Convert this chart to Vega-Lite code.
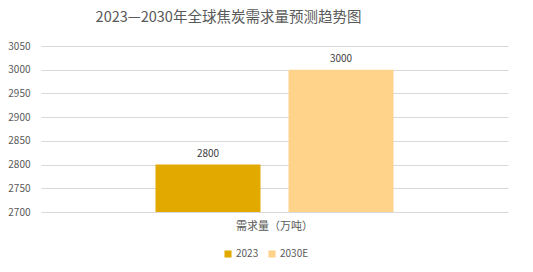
{
  "$schema": "https://vega.github.io/schema/vega-lite/v6.json",
  "autosize": "none",
  "width": 467,
  "height": 166,
  "padding": {"left": 41, "top": 46, "right": 25, "bottom": 60},
  "background": "white",
  "title": {
    "text": "2023—2030年全球焦炭需求量预测趋势图",
    "font": "Noto Sans CJK SC",
    "fontSize": 14.5,
    "fontWeight": "normal",
    "color": "#595959",
    "anchor": "middle",
    "dx": -46,
    "offset": 16
  },
  "config": {
    "view": {"stroke": null},
    "font": "Noto Sans CJK SC"
  },
  "data": {
    "values": [
      {"category": "需求量（万吨）", "series": "2023", "value": 2800},
      {"category": "需求量（万吨）", "series": "2030E", "value": 3000}
    ]
  },
  "encoding": {
    "x": {
      "field": "category",
      "type": "nominal",
      "scale": {"paddingInner": 0, "paddingOuter": 0.481},
      "axis": {
        "title": null,
        "labelAngle": 0,
        "labelFontSize": 11,
        "labelColor": "#595959",
        "labelPadding": 8,
        "ticks": false,
        "domain": false
      }
    },
    "xOffset": {
      "field": "series",
      "type": "nominal",
      "scale": {"paddingInner": 0.2105, "paddingOuter": 0}
    },
    "y": {
      "field": "value",
      "type": "quantitative",
      "scale": {"domain": [2700, 3050], "zero": false, "nice": false},
      "axis": {
        "title": null,
        "values": [2700, 2750, 2800, 2850, 2900, 2950, 3000, 3050],
        "format": "d",
        "domain": false,
        "ticks": false,
        "labelPadding": 11,
        "labelFontSize": 10,
        "labelColor": "#595959",
        "gridColor": "#D9D9D9",
        "gridWidth": 1
      }
    }
  },
  "layer": [
    {
      "mark": {"type": "bar", "clip": true},
      "encoding": {
        "y2": {"datum": 2700},
        "color": {
          "field": "series",
          "type": "nominal",
          "scale": {"domain": ["2023", "2030E"], "range": ["#E2AA00", "#FFD38A"]},
          "legend": {
            "title": null,
            "orient": "none",
            "legendX": 182,
            "legendY": 203,
            "direction": "horizontal",
            "symbolType": "square",
            "symbolSize": 50,
            "symbolStrokeWidth": 0,
            "labelFontSize": 10,
            "labelColor": "#595959",
            "labelOffset": 3,
            "columnPadding": 8
          }
        }
      }
    },
    {
      "mark": {"type": "text", "baseline": "bottom", "dy": -6, "fontSize": 10, "color": "#404040"},
      "encoding": {
        "text": {"field": "value", "type": "quantitative", "format": "d"}
      }
    }
  ]
}
